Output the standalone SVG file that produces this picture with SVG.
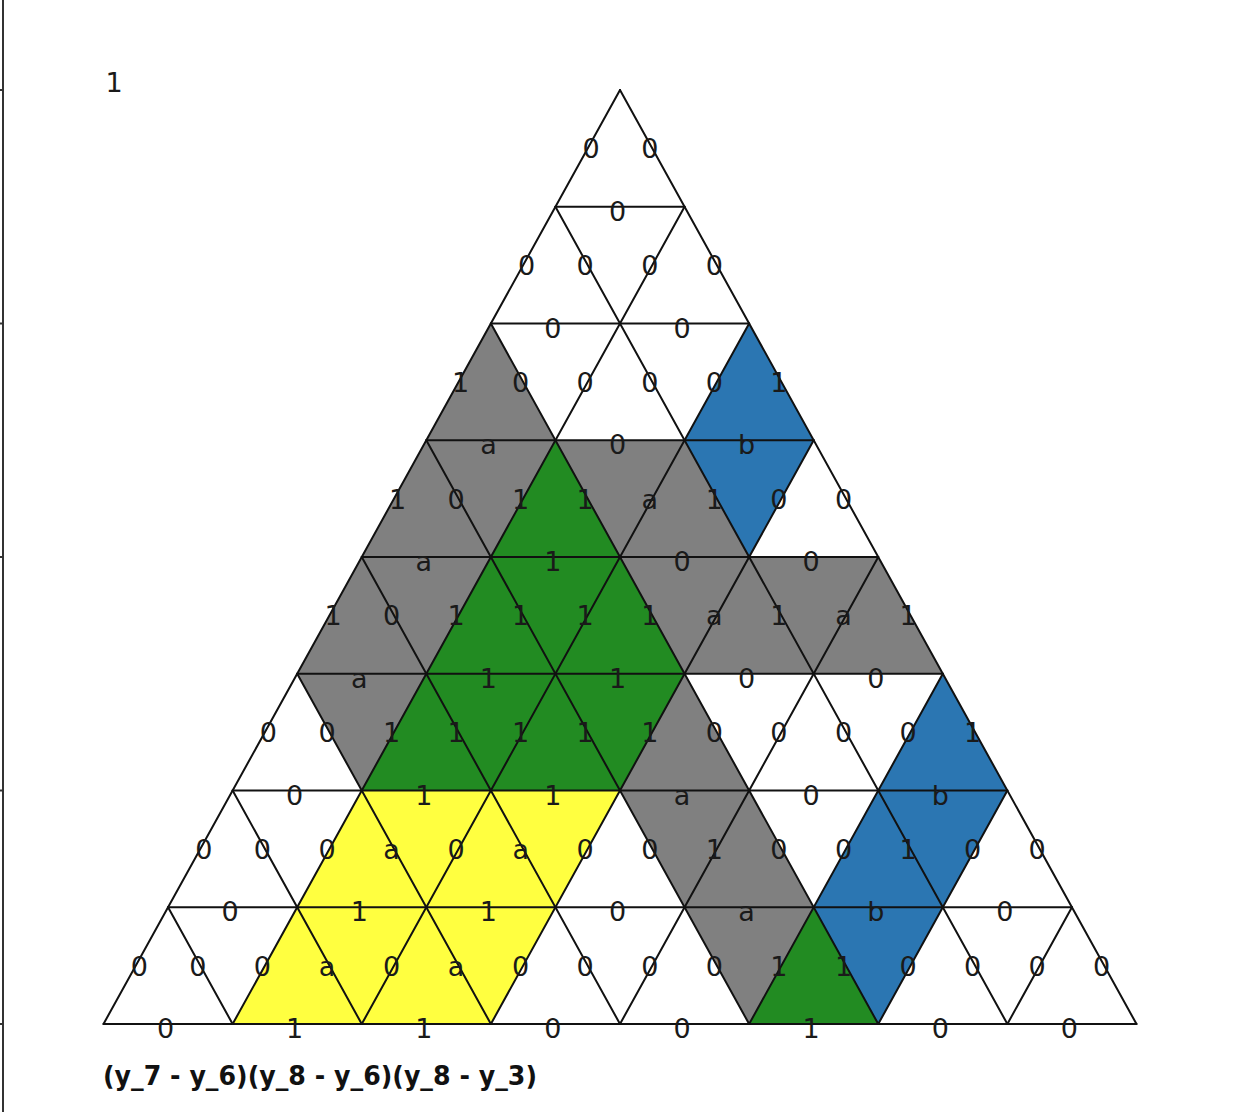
<svg xmlns="http://www.w3.org/2000/svg" width="1236" height="1112" viewBox="0 0 1236 1112">
<style>
.grid line{stroke:#111;stroke-width:2;stroke-linecap:round}
.lbl text{font-family:"DejaVu Sans",sans-serif;font-size:27px;fill:#1a1a1a;text-anchor:middle}
.gray{fill:#808080}.green{fill:#228b22}.blue{fill:#2b76b2}.yellow{fill:#ffff40}
</style>
<rect width="1236" height="1112" fill="#ffffff"/>
<g id="axis" stroke="#333" stroke-width="2">
<line x1="3" y1="0" x2="3" y2="1112"/>
<line x1="0" y1="90" x2="3" y2="90"/>
<line x1="0" y1="323.5" x2="3" y2="323.5"/>
<line x1="0" y1="557" x2="3" y2="557"/>
<line x1="0" y1="790.5" x2="3" y2="790.5"/>
<line x1="0" y1="1024" x2="3" y2="1024"/>
</g>
<g id="regions">
<polygon id="gray-left" class="gray" points="490.88,323.5 555.44,440.25 490.88,557 426.31,673.75 361.75,790.5 297.19,673.75 361.75,557 426.31,440.25"/>
<polygon id="gray-mid" class="gray" points="555.44,440.25 684.56,440.25 749.13,557 878.25,557 942.81,673.75 684.56,673.75 620,557"/>
<polygon id="gray-strip" class="gray" points="684.56,673.75 749.13,790.5 813.69,907.25 749.13,1024 684.56,907.25 620,790.5"/>
<polygon id="green-big" class="green" points="555.44,440.25 684.56,673.75 620,790.5 361.75,790.5 426.31,673.75"/>
<polygon id="green-small" class="green" points="813.69,907.25 749.13,1024 878.25,1024"/>
<polygon id="blue-top" class="blue" points="749.13,323.5 813.69,440.25 749.13,557 684.56,440.25"/>
<polygon id="blue-bottom" class="blue" points="942.81,673.75 1007.38,790.5 942.81,907.25 878.25,1024 813.69,907.25 878.25,790.5"/>
<polygon id="yellow" class="yellow" points="361.75,790.5 620,790.5 490.88,1024 232.63,1024"/>
</g>
<g id="grid" class="grid">
<line x1="555.44" y1="206.75" x2="684.56" y2="206.75"/>
<line x1="490.88" y1="323.5" x2="749.13" y2="323.5"/>
<line x1="426.31" y1="440.25" x2="813.69" y2="440.25"/>
<line x1="361.75" y1="557" x2="878.25" y2="557"/>
<line x1="297.19" y1="673.75" x2="942.81" y2="673.75"/>
<line x1="232.63" y1="790.5" x2="1007.38" y2="790.5"/>
<line x1="168.06" y1="907.25" x2="1071.94" y2="907.25"/>
<line x1="103.5" y1="1024" x2="1136.5" y2="1024"/>
<line x1="620" y1="90" x2="103.5" y2="1024"/>
<line x1="684.56" y1="206.75" x2="232.63" y2="1024"/>
<line x1="749.13" y1="323.5" x2="361.75" y2="1024"/>
<line x1="813.69" y1="440.25" x2="490.88" y2="1024"/>
<line x1="878.25" y1="557" x2="620" y2="1024"/>
<line x1="942.81" y1="673.75" x2="749.13" y2="1024"/>
<line x1="1007.38" y1="790.5" x2="878.25" y2="1024"/>
<line x1="1071.94" y1="907.25" x2="1007.38" y2="1024"/>
<line x1="620" y1="90" x2="1136.5" y2="1024"/>
<line x1="555.44" y1="206.75" x2="1007.38" y2="1024"/>
<line x1="490.88" y1="323.5" x2="878.25" y2="1024"/>
<line x1="426.31" y1="440.25" x2="749.13" y2="1024"/>
<line x1="361.75" y1="557" x2="620" y2="1024"/>
<line x1="297.19" y1="673.75" x2="490.88" y2="1024"/>
<line x1="232.63" y1="790.5" x2="361.75" y2="1024"/>
<line x1="168.06" y1="907.25" x2="232.63" y2="1024"/>
</g>
<g id="labels" class="lbl">
<text x="591.2" y="158.4">0</text><text x="649.8" y="158.4">0</text>
<text x="617.5" y="220.75">0</text>
<text x="526.7" y="275.1">0</text><text x="585.2" y="275.1">0</text><text x="649.8" y="275.1">0</text><text x="714.3" y="275.1">0</text>
<text x="552.9" y="337.5">0</text><text x="682.1" y="337.5">0</text>
<text x="460.5" y="391.9">1</text><text x="520.7" y="391.9">0</text><text x="585.2" y="391.9">0</text><text x="649.8" y="391.9">0</text><text x="714.3" y="391.9">0</text><text x="778.9" y="391.9">1</text>
<text x="488.4" y="454.25">a</text><text x="617.5" y="454.25">0</text><text x="746.6" y="454.25">b</text>
<text x="397.5" y="508.6">1</text><text x="456.1" y="508.6">0</text><text x="520.7" y="508.6">1</text><text x="585.2" y="508.6">1</text><text x="649.8" y="508.6">a</text><text x="714.3" y="508.6">1</text><text x="778.9" y="508.6">0</text><text x="843.5" y="508.6">0</text>
<text x="423.8" y="571">a</text><text x="552.9" y="571">1</text><text x="682.1" y="571">0</text><text x="811.2" y="571">0</text>
<text x="333" y="625.4">1</text><text x="391.5" y="625.4">0</text><text x="456.1" y="625.4">1</text><text x="520.7" y="625.4">1</text><text x="585.2" y="625.4">1</text><text x="649.8" y="625.4">1</text><text x="714.3" y="625.4">a</text><text x="778.9" y="625.4">1</text><text x="843.5" y="625.4">a</text><text x="908" y="625.4">1</text>
<text x="359.3" y="687.75">a</text><text x="488.4" y="687.75">1</text><text x="617.5" y="687.75">1</text><text x="746.6" y="687.75">0</text><text x="875.8" y="687.75">0</text>
<text x="268.4" y="742.1">0</text><text x="327" y="742.1">0</text><text x="391.5" y="742.1">1</text><text x="456.1" y="742.1">1</text><text x="520.7" y="742.1">1</text><text x="585.2" y="742.1">1</text><text x="649.8" y="742.1">1</text><text x="714.3" y="742.1">0</text><text x="778.9" y="742.1">0</text><text x="843.5" y="742.1">0</text><text x="908" y="742.1">0</text><text x="972.6" y="742.1">1</text>
<text x="294.7" y="804.5">0</text><text x="423.8" y="804.5">1</text><text x="552.9" y="804.5">1</text><text x="682.1" y="804.5">a</text><text x="811.2" y="804.5">0</text><text x="940.3" y="804.5">b</text>
<text x="203.8" y="858.9">0</text><text x="262.4" y="858.9">0</text><text x="327" y="858.9">0</text><text x="391.5" y="858.9">a</text><text x="456.1" y="858.9">0</text><text x="520.7" y="858.9">a</text><text x="585.2" y="858.9">0</text><text x="649.8" y="858.9">0</text><text x="714.3" y="858.9">1</text><text x="778.9" y="858.9">0</text><text x="843.5" y="858.9">0</text><text x="908" y="858.9">1</text><text x="972.6" y="858.9">0</text><text x="1037.2" y="858.9">0</text>
<text x="230.1" y="921.25">0</text><text x="359.3" y="921.25">1</text><text x="488.4" y="921.25">1</text><text x="617.5" y="921.25">0</text><text x="746.6" y="921.25">a</text><text x="875.8" y="921.25">b</text><text x="1004.9" y="921.25">0</text>
<text x="139.3" y="975.6">0</text><text x="197.8" y="975.6">0</text><text x="262.4" y="975.6">0</text><text x="327" y="975.6">a</text><text x="391.5" y="975.6">0</text><text x="456.1" y="975.6">a</text><text x="520.7" y="975.6">0</text><text x="585.2" y="975.6">0</text><text x="649.8" y="975.6">0</text><text x="714.3" y="975.6">0</text><text x="778.9" y="975.6">1</text><text x="843.5" y="975.6">1</text><text x="908" y="975.6">0</text><text x="972.6" y="975.6">0</text><text x="1037.2" y="975.6">0</text><text x="1101.7" y="975.6">0</text>
<text x="165.6" y="1038">0</text><text x="294.7" y="1038">1</text><text x="423.8" y="1038">1</text><text x="552.9" y="1038">0</text><text x="682.1" y="1038">0</text><text x="811.2" y="1038">1</text><text x="940.3" y="1038">0</text><text x="1069.4" y="1038">0</text>
</g>
<g id="corner-label" class="lbl"><text x="114" y="91.5">1</text></g>
<g id="caption"><text x="103" y="1085" font-family="DejaVu Sans, sans-serif" font-weight="bold" font-size="26" fill="#111" textLength="434" lengthAdjust="spacingAndGlyphs">(y_7 - y_6)(y_8 - y_6)(y_8 - y_3)</text></g>
</svg>
